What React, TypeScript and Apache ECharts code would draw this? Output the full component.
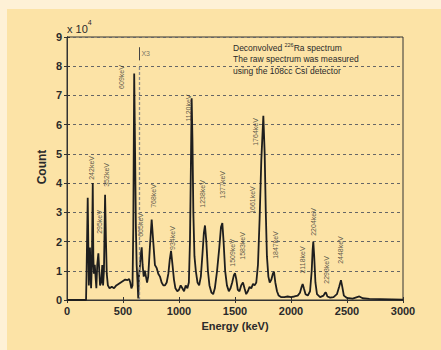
import React, { useEffect, useRef } from "react";
import * as echarts from "echarts";

const energy = [0,170,175,185,190,195,200,205,210,215,222,230,235,240,248,255,262,270,280,288,295,305,315,322,330,340,348,355,365,380,400,420,440,460,480,500,520,540,555,565,575,585,592,600,608,615,622,630,636,642,652,660,667,675,685,695,705,715,725,740,756,770,785,800,815,830,845,860,875,890,905,918,929,942,955,968,985,1000,1015,1030,1045,1060,1075,1088,1098,1106,1113,1120,1128,1138,1150,1165,1180,1195,1210,1222,1232,1244,1258,1272,1290,1305,1320,1340,1360,1375,1387,1398,1412,1428,1445,1460,1475,1490,1500,1512,1525,1540,1555,1571,1585,1600,1615,1630,1645,1661,1675,1690,1705,1720,1735,1753,1765,1775,1785,1798,1810,1825,1838,1848,1860,1875,1890,1910,1940,1970,2000,2030,2060,2080,2095,2104,2115,2130,2150,2170,2185,2193,2199,2207,2218,2232,2260,2290,2305,2312,2325,2350,2380,2410,2430,2446,2458,2472,2500,2550,2590,2610,2640,2700,2800,2900,3000];
const counts = [0,0,1.0,3.5,2.0,0.5,1.2,1.8,1.0,0.4,1.2,4.0,1.5,0.9,1.2,0.8,0.4,1.2,1.6,1.0,0.5,0.6,1.2,0.5,1.0,3.6,2.0,0.9,0.5,0.4,0.45,0.4,0.5,0.55,0.6,0.65,0.7,0.68,0.72,0.6,0.4,0.5,2.5,7.75,5.0,2.5,1.2,0.6,0.05,0.8,1.2,1.6,1.8,1.2,0.8,1.0,0.8,0.6,0.8,1.8,2.75,2.0,1.2,1.1,0.9,0.8,0.6,0.5,0.5,0.6,0.9,1.4,1.68,1.2,0.7,0.4,0.3,0.35,0.5,0.4,0.3,0.5,0.4,0.6,2.0,4.5,6.9,5.5,3.0,1.5,1.0,0.6,0.5,0.8,1.6,2.3,2.55,2.0,1.0,0.5,0.25,0.2,0.4,1.0,1.8,2.5,2.63,2.0,1.0,0.5,0.3,0.4,0.6,0.85,0.92,0.7,0.35,0.3,0.5,0.6,0.4,0.2,0.3,0.45,0.4,0.55,0.5,0.6,1.2,2.8,4.8,6.3,5.0,3.0,1.5,0.8,0.6,0.7,0.9,0.97,0.6,0.3,0.15,0.1,0.1,0.12,0.1,0.12,0.15,0.25,0.45,0.55,0.4,0.2,0.15,0.3,1.0,1.7,2.0,1.5,0.6,0.2,0.1,0.15,0.25,0.25,0.12,0.08,0.1,0.2,0.45,0.68,0.45,0.15,0.07,0.05,0.1,0.12,0.06,0.04,0.03,0.02,0.01];

const peakLabels = ["242keV","295keV","352keV","609keV","665keV","768keV","934keV","1120keV","1238keV","1377keV","1509keV","1583keV","1661keV","1764keV","1847keV","2118keV","2204keV","2293keV","2448keV"];
const peakLabelX = [223,286,357,491,652,768,946,1089,1214,1384,1482,1571,1652,1679,1866,2107,2205,2321,2446];
const peakLabelY = [4.52,2.67,4.28,7.63,2.57,3.56,2.12,6.57,3.63,3.94,1.61,1.85,3.42,5.75,1.88,1.37,2.67,1.03,1.71];

const xTicks = [0, 500, 1000, 1500, 2000, 2500, 3000];
const yTicks = [0, 1, 2, 3, 4, 5, 6, 7, 8, 9];
const x3Energy = 643;

export default function App() {
  const ref = useRef<HTMLDivElement>(null);
  useEffect(() => {
    document.body.style.margin = "0";
    const chart = echarts.init(ref.current!, null, { renderer: "svg" });
    const font = "'Liberation Sans', Arial, sans-serif";
    const txt = "#2a2a2a";
    chart.setOption({
      animation: false,
      backgroundColor: "#fef1d6",
      textStyle: { fontFamily: font },
      graphic: [
        { type: "rect", z: -10, shape: { x: 7, y: 9, width: 434, height: 341 }, style: { fill: "#fce3a6" }, silent: true },
        {
          type: "text", left: 67, top: 19, z: 10,
          style: {
            text: "{a|x 10}{b|4}", fill: txt,
            rich: { a: { fontSize: 11, fontFamily: font, fill: txt, verticalAlign: "bottom" }, b: { fontSize: 7, fontFamily: font, fill: txt, verticalAlign: "top", padding: [0, 0, 8, 0] } },
          },
        },
        {
          type: "text", left: 233, top: 42, z: 10,
          style: {
            text: "{n|Deconvolved }{s|226}{n|Ra spectrum}\n{n|The raw spectrum was measured}\n{n|using the 108cc CsI detector}",
            fill: txt, lineHeight: 11.5,
            rich: {
              n: { fontSize: 8.5, fontFamily: font, fill: txt, lineHeight: 11.5 },
              s: { fontSize: 5.5, fontFamily: font, fill: txt, lineHeight: 11.5, verticalAlign: "top", padding: [0, 0, 4, 0] },
            },
          },
        },
        { type: "text", rotation: Math.PI / 2, x: 42, y: 167, z: 10, style: { text: "Count", fontSize: 12, fontWeight: "bold", fontFamily: font, fill: txt, align: "center", verticalAlign: "middle" } },
      ],
      grid: { left: 67, right: 38, top: 37, bottom: 50, show: true, borderColor: "#333", borderWidth: 1, backgroundColor: "transparent" },
      xAxis: [
        {
          type: "value", min: xTicks[0], max: xTicks[xTicks.length - 1], interval: 500,
          name: "Energy (keV)", nameLocation: "middle", nameGap: 19,
          nameTextStyle: { fontSize: 11, fontWeight: "bold", color: txt, fontFamily: font },
          axisLine: { show: true, lineStyle: { color: "#333" } },
          axisTick: { show: true, inside: true, length: 3, lineStyle: { color: "#333" } },
          axisLabel: { fontSize: 11, fontWeight: "bold", color: txt, margin: 5, fontFamily: font, formatter: (v: number) => String(v) },
          splitLine: { show: false },
        },
        {
          type: "value", position: "top", min: 0, max: 3000, interval: 500,
          axisLine: { show: true, lineStyle: { color: "#333" } },
          axisTick: { show: true, inside: true, length: 3, lineStyle: { color: "#333" } },
          axisLabel: { show: false }, splitLine: { show: false },
        },
      ],
      yAxis: [
        {
          type: "value", min: yTicks[0], max: yTicks[yTicks.length - 1], interval: 1,
          axisLine: { show: true, lineStyle: { color: "#333" } },
          axisTick: { show: true, inside: true, length: 3, lineStyle: { color: "#333" } },
          axisLabel: { fontSize: 11, fontWeight: "bold", color: txt, margin: 5, fontFamily: font },
          splitLine: { show: true, lineStyle: { color: "#666", type: [3, 3], width: 1 } },
        },
        {
          type: "value", position: "right", min: 0, max: 9, interval: 1,
          axisLine: { show: true, lineStyle: { color: "#333" } },
          axisTick: { show: true, inside: true, length: 3, lineStyle: { color: "#333" } },
          axisLabel: { show: false }, splitLine: { show: false },
        },
      ],
      series: [
        {
          type: "line", data: energy.map((e, i) => [e, counts[i]]), symbol: "none",
          lineStyle: { color: "#1e1e1e", width: 1.8 }, z: 3,
          markLine: {
            silent: true, symbol: "none", animation: false,
            label: { show: false },
            data: [
              [{ coord: [x3Energy, 0], lineStyle: { color: "#8a8a8a", type: [3, 2], width: 1.3 } }, { coord: [x3Energy, 8.05] }],
              [{ coord: [x3Energy, 8.2], lineStyle: { color: "#444", type: "solid", width: 1 } }, { coord: [x3Energy, 8.65] }],
            ],
          },
        },
        {
          type: "scatter", symbolSize: 0, z: 4, silent: true,
          data: peakLabelX.map((x, i) => ({ value: [x, peakLabelY[i]], name: peakLabels[i] })),
          label: {
            show: true, position: "inside", rotate: 90, formatter: (p: any) => p.name,
            fontSize: 7, color: "#333", fontFamily: font, align: "center", verticalAlign: "middle",
          },
        },
        {
          type: "scatter", symbolSize: 0, z: 4, silent: true,
          data: [{ value: [x3Energy + 60, 8.45], name: "X3" }],
          label: { show: true, position: "inside", formatter: "X3", fontSize: 7, color: "#555", fontFamily: font },
        },
      ],
    });
    return () => chart.dispose();
  }, []);
  return <div ref={ref} style={{ width: 441, height: 350 }} />;
}
